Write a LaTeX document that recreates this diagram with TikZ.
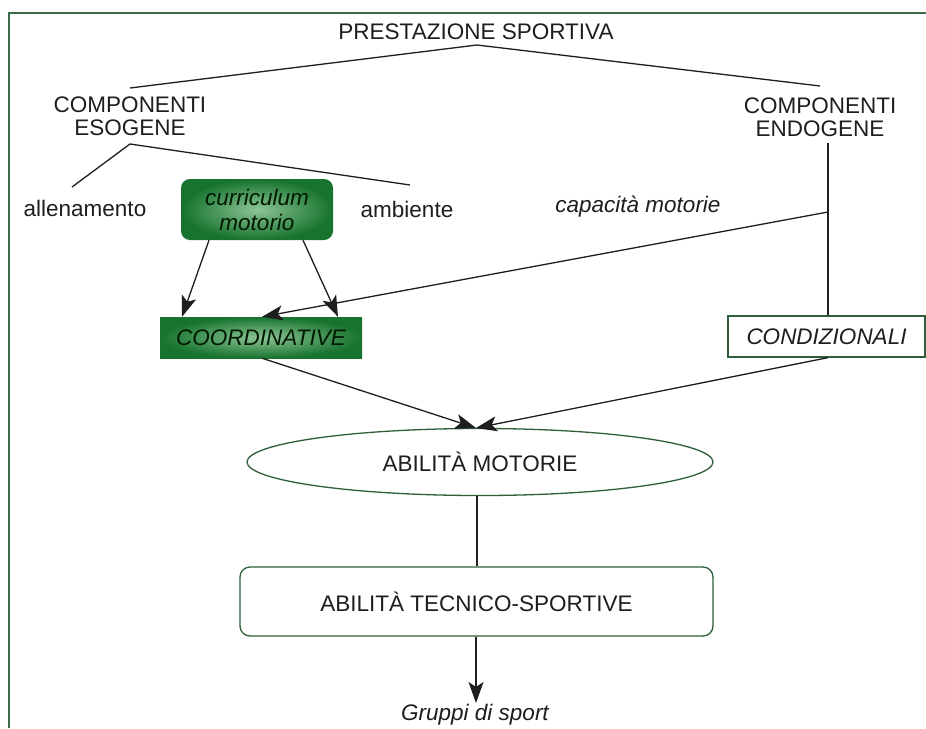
\documentclass[tikz,border=0pt]{standalone}
\usepackage{fontspec}
\setmainfont{Liberation Sans}
\usetikzlibrary{arrows.meta,shapes.geometric}
\definecolor{framegreen}{HTML}{3B6B47}
\definecolor{boxedge}{HTML}{2F5E3A}
\definecolor{darkfill}{HTML}{17732E}
\definecolor{lightfill}{HTML}{8CC596}
\definecolor{ink}{HTML}{1E1E1E}
\tikzset{
  txt/.style={font=\fontsize{22.5}{23}\selectfont, text=ink, inner sep=0pt, align=center},
  itxt/.style={txt, font=\fontsize{22.5}{25}\selectfont\itshape},
  greenbox/.style={itxt, shade, inner color=lightfill, outer color=darkfill, text=black!90!green},
  whitebox/.style={txt, draw=boxedge, line width=1.3pt, fill=white},
  conn/.style={draw=ink, line width=1.3pt},
  arr/.style={conn, -{Stealth[length=21pt,width=15pt,inset=5pt]}},
}
\begin{document}
\begin{tikzpicture}[x=1pt,y=-1pt]
\useasboundingbox (0,0) rectangle (926,728);
\fill[white] (0,0) rectangle (926,728);
% outer frame, running off the right and bottom edges
\draw[framegreen, line width=2pt] (9,728) -- (9,13) -- (926,13);

% texts and boxes
\node[txt] (prest) at (476,32) {PRESTAZIONE SPORTIVA};
\node[txt] (eso) at (130,116) {COMPONENTI\\ESOGENE};
\node[txt] (endo) at (820,117) {COMPONENTI\\ENDOGENE};
\node[txt] (allen) at (85,208) {allenamento};
\node[txt] (amb) at (407,209) {ambiente};
\node[greenbox, rounded corners=9pt, minimum width=152pt, minimum height=61pt] (curr) at (257,209.5) {curriculum\\motorio};
\node[itxt] (cap) at (638,207) {capacità motorie};
\node[greenbox, minimum width=202pt, minimum height=41pt] (coord) at (261,337.5) {COORDINATIVE};
\node[whitebox, font=\fontsize{22.5}{23}\selectfont\itshape, minimum width=197pt, minimum height=41pt] (cond) at (826.5,336.5) {CONDIZIONALI};
\node[txt, draw=boxedge, line width=1.3pt, ellipse, minimum width=466pt, minimum height=67pt] (abmot) at (480,462) {ABILITÀ MOTORIE};
\node[whitebox, rounded corners=10pt, minimum width=473pt, minimum height=69pt] (tec) at (476.5,601.5) {ABILITÀ TECNICO-SPORTIVE};
\node[itxt] (grup) at (475,715) {Gruppi di sport};

% connector end points
\coordinate (apex) at (477,45);
\coordinate (esoTop) at (130,88);
\coordinate (endoTop) at (820,86);
\coordinate (esoFoot) at (130,144);
\coordinate (allenTop) at (72,187);
\coordinate (ambTop) at (410,185);
\coordinate (endoFoot) at (828,143);
\coordinate (capJoin) at (828,212);
\coordinate (meet) at (476,428);

% tree lines
\draw[conn] (esoTop) -- (apex) -- (endoTop);
\draw[conn] (allenTop) -- (esoFoot) -- (ambTop);
\draw[conn] (endoFoot) -- (cond.north -| endoFoot);

% arrows
\draw[arr] (capJoin) -- (coord.north -| 262,0);
\draw[arr] (curr.south -| 209,0) -- (coord.north -| 182,0);
\draw[arr] (curr.south -| 303,0) -- (coord.north -| 338,0);
\draw[arr] (coord.south -| 262,0) -- (meet);
\draw[arr] (cond.south -| 828,0) -- (meet);
\draw[conn] (abmot.south -| 477,0) -- (tec.north -| 477,0);
\draw[arr] (tec.south -| 476,0) -- (476,703) coordinate (grupTop);
\end{tikzpicture}
\end{document}
